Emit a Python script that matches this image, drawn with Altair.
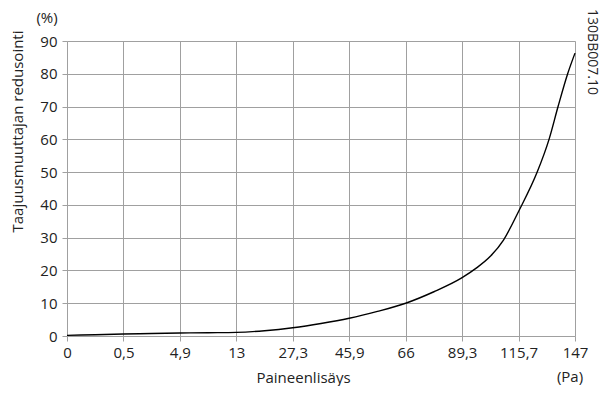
import altair as alt
import pandas as pd

# Tick values of the pressure axis (Pa), equally spaced on the chart
x_ticks = [0, 0.5, 4.9, 13, 27.3, 45.9, 66, 89.3, 115.7, 147]
y_ticks = [0, 10, 20, 30, 40, 50, 60, 70, 80, 90]

# Curve: position along the axis (in tick steps) and value (%)
curve_step = [0, 0.5, 1, 1.5, 2, 2.5, 3, 3.5, 4, 4.5, 5, 5.5, 6, 6.5, 7, 7.25, 7.5, 7.73,
              8, 8.33, 8.54, 8.7, 8.87, 9]
curve_pct = [0.2, 0.4, 0.6, 0.75, 0.9, 1.0, 1.1, 1.6, 2.5, 3.8, 5.4, 7.5, 10.0, 13.5, 17.8,
             20.7, 24.3, 29.2, 38, 50, 60, 70, 80, 86.3]


def step_to_pa(s):
    i = min(int(s), len(x_ticks) - 2)
    f = s - i
    return x_ticks[i] + f * (x_ticks[i + 1] - x_ticks[i])


df = pd.DataFrame({"pa": [step_to_pa(s) for s in curve_step], "pct": curve_pct})

W, H = 508, 295
FONT = "Open Sans"
GRID = "#a0a0a0"
TXT = "#222222"
FS = 15

x_range = [i * W / (len(x_ticks) - 1) for i in range(len(x_ticks))]

line = alt.Chart(df).mark_line(color="black", strokeWidth=1.4, interpolate="monotone").encode(
    x=alt.X("pa:Q",
            scale=alt.Scale(domain=x_ticks, range=x_range),
            axis=alt.Axis(values=x_ticks,
                          labelExpr="replace(format(datum.value, '~g'), '.', ',')",
                          title="Paineenlisäys", titleX=236, titleY=41, titleBaseline="middle",
                          titleFontWeight="normal",
                          grid=True, gridColor=GRID, domain=False, tickColor=GRID, tickSize=5,
                          labelFontSize=FS, titleFontSize=FS, labelFont=FONT, titleFont=FONT,
                          labelColor=TXT, titleColor=TXT, labelPadding=4,
                          labelFlush=False, labelOverlap=False)),
    y=alt.Y("pct:Q",
            scale=alt.Scale(domain=[0, 90], nice=False),
            axis=alt.Axis(values=y_ticks, title="Taajuusmuuttajan redusointi",
                          titleX=-50, titleY=90, titleAngle=-90, titleBaseline="middle",
                          titleFontWeight="normal",
                          grid=True, gridColor=GRID, domain=False, tickColor=GRID, tickSize=5,
                          labelFontSize=FS, titleFontSize=FS, labelFont=FONT, titleFont=FONT,
                          labelColor=TXT, titleColor=TXT, labelPadding=5)),
)

pct_lbl = alt.Chart(pd.DataFrame({"t": ["(%)"]})).mark_text(
    font=FONT, fontSize=FS, color=TXT, align="center").encode(
    x=alt.value(-20), y=alt.value(-23), text="t:N")

pa_lbl = alt.Chart(pd.DataFrame({"t": ["(Pa)"]})).mark_text(
    font=FONT, fontSize=FS, color=TXT, align="center").encode(
    x=alt.value(503), y=alt.value(336), text="t:N")

code_lbl = alt.Chart(pd.DataFrame({"t": ["130BB007.10"]})).mark_text(
    font=FONT, fontSize=14, color=TXT, align="center", angle=90).encode(
    x=alt.value(525), y=alt.value(11), text="t:N")

chart = alt.layer(line, pct_lbl, pa_lbl, code_lbl).properties(
    width=W, height=H,
    autosize=alt.AutoSizeParams(type="none"),
    padding={"left": 59, "top": 33, "right": 27, "bottom": 50},
).configure_view(stroke=None).configure(background="white")

chart.save("out.html", embed_options={"renderer": "svg", "actions": False})
